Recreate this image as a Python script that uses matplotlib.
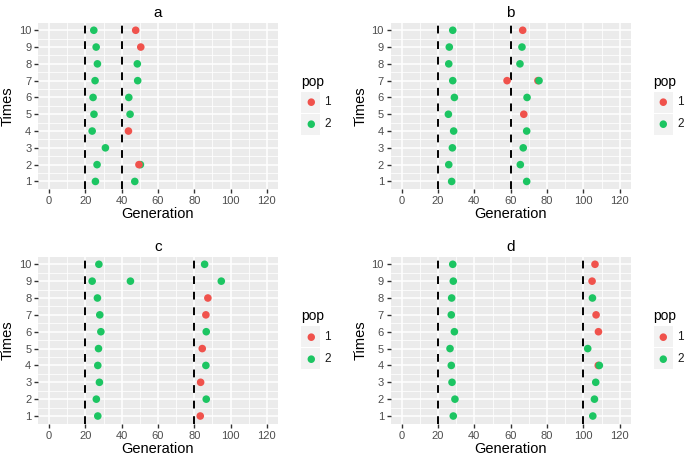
import matplotlib
matplotlib.use("Agg")
import matplotlib.pyplot as plt
import matplotlib.patches as mpatches
import numpy as np

plt.rcParams['font.family'] = ['Liberation Sans', 'DejaVu Sans']

# data: generation, times, pop (draw order kept)
a_gen = [24.6, 47.7, 25.9, 50.5, 26.6, 48.6, 25.3, 48.8, 24.2, 43.9, 24.7, 44.6,
         23.7, 43.7, 31.0, 26.4, 50.3, 49.5, 25.5, 47.2]
a_times = [10, 10, 9, 9, 8, 8, 7, 7, 6, 6, 5, 5, 4, 4, 3, 2, 2, 2, 1, 1]
a_pop = [2, 1, 2, 1, 2, 2, 2, 2, 2, 2, 2, 2, 2, 1, 2, 2, 2, 1, 2, 2]

b_gen = [28.1, 66.6, 26.2, 66.2, 25.9, 65.1, 28.1, 58.0, 75.0, 75.6, 29.0, 69.0,
         25.7, 67.2, 28.6, 68.8, 27.9, 66.9, 25.9, 65.3, 27.5, 68.8]
b_times = [10, 10, 9, 9, 8, 8, 7, 7, 7, 7, 6, 6, 5, 5, 4, 4, 3, 3, 2, 2, 1, 1]
b_pop = [2, 1, 2, 2, 2, 2, 2, 1, 1, 2, 2, 2, 2, 1, 2, 2, 2, 2, 2, 2, 2, 2]

c_gen = [27.4, 85.7, 23.7, 44.8, 94.9, 26.6, 87.5, 27.9, 86.4, 28.5, 86.6, 27.2,
         84.4, 26.8, 86.4, 27.7, 83.5, 26.0, 86.6, 26.8, 83.3]
c_times = [10, 10, 9, 9, 9, 8, 8, 7, 7, 6, 6, 5, 5, 4, 4, 3, 3, 2, 2, 1, 1]
c_pop = [2, 2, 2, 2, 2, 2, 1, 2, 1, 2, 2, 2, 1, 2, 2, 2, 1, 2, 2, 2, 1]

d_gen = [28.1, 106.4, 28.4, 104.8, 27.5, 105.0, 27.3, 107.0, 29.0, 108.3, 26.6, 102.4,
         27.3, 108.2, 108.8, 27.7, 106.8, 29.3, 106.1, 28.4, 105.2]
d_times = [10, 10, 9, 9, 8, 8, 7, 7, 6, 6, 5, 5, 4, 4, 4, 3, 3, 2, 2, 1, 1]
d_pop = [2, 1, 2, 1, 2, 2, 2, 1, 2, 1, 2, 2, 2, 1, 2, 2, 2, 2, 2, 2, 2]

vlines = {'a': [20, 40], 'b': [20, 60], 'c': [20, 80], 'd': [20, 100]}
pop_colors = {1: '#F0524C', 2: '#1CC562'}

W, H = 685, 457
fig = plt.figure(figsize=(W / 100, H / 100), dpi=100)


def px_rect(left, top, right, bottom):
    return [left / W, 1 - bottom / H, (right - left) / W, (bottom - top) / H]


def panel(rect, title, gen, times, pop, lines):
    ax = fig.add_axes(px_rect(*rect))
    ax.set_facecolor('#EBEBEB')
    ax.set_xlim(-6, 126)
    ax.set_ylim(0.55, 10.45)
    ax.set_xticks(range(0, 121, 20))
    ax.set_yticks(range(1, 11))
    ax.set_xticks(range(10, 120, 20), minor=True)
    ax.set_yticks(np.arange(1.5, 10, 1), minor=True)
    ax.grid(True, which='major', color='white', lw=1.1)
    ax.grid(True, which='minor', color='white', lw=0.55)
    ax.set_axisbelow(True)
    for s in ax.spines.values():
        s.set_visible(False)
    ax.tick_params(which='major', length=3, width=1, color='#333333',
                   labelsize=8, labelcolor='#4D4D4D', pad=2)
    ax.tick_params(which='minor', length=0)
    for v in lines:
        ax.axvline(v, color='black', ls=(0, (4, 4)), lw=1.4, zorder=2)
    cols = [pop_colors[p] for p in pop]
    ax.scatter(gen, times, c=cols, s=30, linewidths=0, zorder=3)
    ax.set_title(title, fontsize=11, pad=4)
    ax.set_xlabel('Generation', fontsize=10.5, labelpad=1)
    ax.set_ylabel('Times', fontsize=10.5, labelpad=3)

    # legend drawn beside the panel
    lx = rect[2] + 23
    cy = (rect[1] + rect[3]) / 2
    fig.text(lx / W, 1 - (cy - 24) / H, 'pop', fontsize=10, va='center', ha='left')
    for i, p in enumerate([1, 2]):
        top = cy - 14 + i * 22
        fig.patches.append(mpatches.Rectangle((lx / W, 1 - (top + 21) / H), 19 / W, 21 / H,
                                              transform=fig.transFigure, facecolor='#F2F2F2',
                                              edgecolor='none'))
        fig.text((lx + 9.5) / W, 1 - (top + 10.5) / H, '\u25CF', color=pop_colors[p],
                 fontsize=7, ha='center', va='center', family='DejaVu Sans')
        fig.text((lx + 23.5) / W, 1 - (top + 10.5) / H, str(p), fontsize=8.5,
                 color='#1A1A1A', ha='left', va='center')
    return ax


panel((38.3, 22.7, 277.7, 189.0), 'a', a_gen, a_times, a_pop, vlines['a'])
panel((390.8, 22.7, 630.6, 189.0), 'b', b_gen, b_times, b_pop, vlines['b'])
panel((38.3, 256.7, 277.7, 423.6), 'c', c_gen, c_times, c_pop, vlines['c'])
panel((390.8, 256.7, 630.6, 423.6), 'd', d_gen, d_times, d_pop, vlines['d'])

fig.savefig('out.png', dpi=100)
